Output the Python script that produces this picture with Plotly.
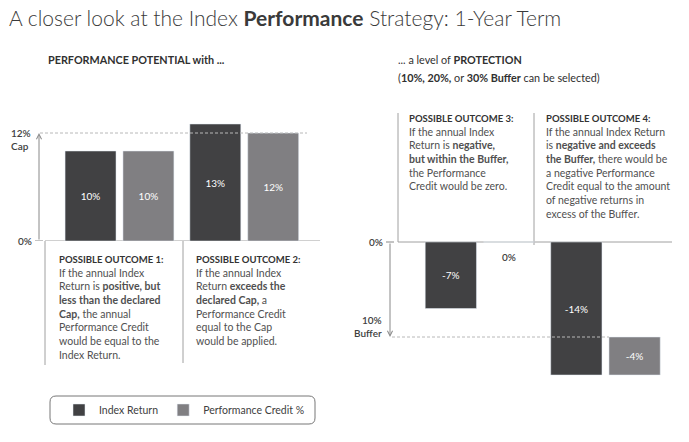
import plotly.graph_objects as go

W, H = 689, 442

# ---------------- data ----------------
outcomes_left = ["Outcome 1", "Outcome 2"]
index_return_left = [10, 13]
perf_credit_left = [10, 12]

outcomes_right = ["Outcome 3", "Outcome 4"]
index_return_right = [-7, -14]
perf_credit_right = [0, -4]
perf_credit_right_base = [0, -10]

cap_value = 12
buffer_value = -10

series_names = ["Index Return", "Performance Credit %"]

# ---------------- style ----------------
DARK = "#414143"
LIGHT = "#807f82"
LINE = "#a0a0a0"
TXT = "#505050"
FONT = "Lato"
PAGE_OFFSET = 0  # body margin removed via post_script


def X(px):
    return (px - PAGE_OFFSET) / W


def Y(py):
    return 1 - (py - PAGE_OFFSET) / H


def pct(vals):
    return [f"{v}%" if v != 0 else "" for v in vals]


fig = go.Figure()

bar_common = dict(
    textposition="inside",
    insidetextanchor="middle",
    textfont=dict(color="white", size=10, family=FONT),
    hoverinfo="skip",
)

fig.add_trace(go.Bar(x=outcomes_left, y=index_return_left, text=pct(index_return_left),
                     marker_color=DARK, name=series_names[0], legendgroup="ir",
                     xaxis="x", yaxis="y", **bar_common))
fig.add_trace(go.Bar(x=outcomes_left, y=perf_credit_left, text=pct(perf_credit_left),
                     marker_color=LIGHT, name=series_names[1], legendgroup="pc",
                     xaxis="x", yaxis="y", **bar_common))
fig.add_trace(go.Bar(x=outcomes_right, y=index_return_right, text=pct(index_return_right),
                     marker_color=DARK, name=series_names[0], legendgroup="ir", showlegend=False,
                     xaxis="x2", yaxis="y2", **bar_common))
fig.add_trace(go.Bar(x=outcomes_right, y=perf_credit_right, base=perf_credit_right_base,
                     text=pct(perf_credit_right),
                     marker_color=LIGHT, name=series_names[1], legendgroup="pc", showlegend=False,
                     xaxis="x2", yaxis="y2", **bar_common))

hidden = dict(showgrid=False, zeroline=False, showticklabels=False, ticks="", showline=False)

shapes = []
annotations = []

# axis baselines (0%)
shapes.append(dict(type="line", xref="x domain", yref="y", x0=0, x1=1, y0=0, y1=0,
                   line=dict(color=LINE, width=1), layer="below"))
shapes.append(dict(type="line", xref="x2 domain", yref="y2", x0=0, x1=1, y0=0, y1=0,
                   line=dict(color=LINE, width=1), layer="below"))

# dividers
for (x, y0, y1) in [(45, 241, 365), (183, 241, 363), (398, 113, 242), (534, 113, 245)]:
    shapes.append(dict(type="line", xref="paper", yref="paper", x0=X(x), x1=X(x),
                       y0=Y(y0), y1=Y(y1), line=dict(color=LINE, width=1), layer="below"))

# cap & buffer dashed reference lines
shapes.append(dict(type="line", xref="paper", yref="y", x0=X(40), x1=X(307),
                   y0=cap_value, y1=cap_value, line=dict(color="#b8b8b8", width=1, dash="3px,2px")))
shapes.append(dict(type="line", xref="paper", yref="y2", x0=X(392), x1=X(609),
                   y0=buffer_value, y1=buffer_value, line=dict(color="#b8b8b8", width=1, dash="3px,2px")))

# small tick marks at the arrow tails
shapes.append(dict(type="line", xref="paper", yref="y", x0=X(35), x1=X(43), y0=0, y1=0,
                   line=dict(color="#888", width=1)))
shapes.append(dict(type="line", xref="paper", yref="y2", x0=X(386), x1=X(394), y0=0, y1=0,
                   line=dict(color="#888", width=1)))

# arrows
annotations.append(dict(x=X(39), y=cap_value, xref="paper", yref="y", ax=0, ay=0,
                        axref="pixel", ayref="y", showarrow=True, arrowhead=5, arrowsize=1,
                        arrowwidth=1, arrowcolor="#888", text="", standoff=0))
annotations.append(dict(x=X(390), y=buffer_value, xref="paper", yref="y2", ax=0, ay=0,
                        axref="pixel", ayref="y2", showarrow=True, arrowhead=5, arrowsize=1,
                        arrowwidth=1, arrowcolor="#888", text="", standoff=0))

lab_font = dict(family=FONT, size=10, color="#404040", weight=600)
# axis labels
annotations.append(dict(x=X(34), y=0, xref="paper", yref="y", text="0%", showarrow=False,
                        xanchor="right", yanchor="middle", font=lab_font))
annotations.append(dict(x=X(9), y=cap_value, xref="paper", yref="y",
                        text=f"{cap_value}%<br>Cap", showarrow=False, align="left",
                        xanchor="left", yanchor="top", yshift=8, font=lab_font))
annotations.append(dict(x=X(385), y=0, xref="paper", yref="y2", text="0%", showarrow=False,
                        xanchor="right", yanchor="middle", font=lab_font))
annotations.append(dict(x=X(384), y=buffer_value, xref="paper", yref="y2",
                        text=f"{abs(buffer_value)}%<br>Buffer", showarrow=False, align="right",
                        xanchor="right", yanchor="bottom", yshift=-4, font=lab_font))

# zero performance credit label (outcome 3)
annotations.append(dict(x=outcomes_right[0], y=0, xref="x2", yref="y2",
                        text=f"{perf_credit_right[0]}%", showarrow=False, xshift=29, yshift=-15,
                        font=dict(family=FONT, size=10, color="#404040", weight=600)))

# title & subtitles
annotations.append(dict(x=X(7), y=Y(18), xref="paper", yref="paper",
                        text="A closer look at the Index <b>Performance</b> Strategy: 1-Year Term",
                        showarrow=False, xanchor="left", yanchor="middle",
                        font=dict(family=FONT, size=21, color="#3a3a3a", weight=300)))
sub_font = dict(family=FONT, size=10.8, color="#303030")
annotations.append(dict(x=X(46), y=Y(60), xref="paper", yref="paper",
                        text="<b>PERFORMANCE POTENTIAL with ...</b>", showarrow=False,
                        xanchor="left", yanchor="middle", font=sub_font))
annotations.append(dict(x=X(396), y=Y(60), xref="paper", yref="paper",
                        text="... a level of <b>PROTECTION</b>", showarrow=False,
                        xanchor="left", yanchor="middle", font=sub_font))
annotations.append(dict(x=X(396), y=Y(77), xref="paper", yref="paper",
                        text="(<b>10%, 20%,</b> or <b>30% Buffer</b> can be selected)", showarrow=False,
                        xanchor="left", yanchor="middle", font=sub_font))


def head(t):
    return f'<span style="font-size:9.5px;font-weight:bold;fill:#333333">{t}</span>'


# outcome descriptions
outcome_texts = [
    (57, 252, head("POSSIBLE OUTCOME 1:") + "<br>If the annual Index<br>Return is <b>positive, but</b><br>"
              "<b>less than the declared</b><br><b>Cap,</b> the annual<br>Performance Credit<br>"
              "would be equal to the<br>Index Return."),
    (194, 252, head("POSSIBLE OUTCOME 2:") + "<br>If the annual Index<br>Return <b>exceeds the</b><br>"
               "<b>declared Cap,</b> a<br>Performance Credit<br>equal to the Cap<br>would be applied."),
    (407, 111, head("POSSIBLE OUTCOME 3:") + "<br>If the annual Index<br>Return is <b>negative,</b><br>"
               "<b>but within the Buffer,</b><br>the Performance<br>Credit would be zero."),
    (544, 111, head("POSSIBLE OUTCOME 4:") + "<br>If the annual Index Return<br>is <b>negative and exceeds</b><br>"
               "<b>the Buffer,</b> there would be<br>a negative Performance<br>Credit equal to the amount<br>"
               "of negative returns in<br>excess of the Buffer."),
]
for (x, y, t) in outcome_texts:
    annotations.append(dict(x=X(x), y=Y(y), xref="paper", yref="paper", text=t, showarrow=False,
                            xanchor="left", yanchor="top", align="left",
                            font=dict(family=FONT, size=10.5, color=TXT)))

# rounded legend frame
x0, x1, y0, y1, r = 50, 315, 396, 424, 6
rx, ry = r / W, r / H
path = (f"M {X(x0)+rx},{Y(y0)} L {X(x1)-rx},{Y(y0)} Q {X(x1)},{Y(y0)} {X(x1)},{Y(y0)-ry} "
        f"L {X(x1)},{Y(y1)+ry} Q {X(x1)},{Y(y1)} {X(x1)-rx},{Y(y1)} "
        f"L {X(x0)+rx},{Y(y1)} Q {X(x0)},{Y(y1)} {X(x0)},{Y(y1)+ry} "
        f"L {X(x0)},{Y(y0)-ry} Q {X(x0)},{Y(y0)} {X(x0)+rx},{Y(y0)} Z")
shapes.append(dict(type="path", xref="paper", yref="paper", path=path,
                   line=dict(color="#777", width=1)))

fig.update_layout(
    width=W, height=H,
    margin=dict(l=0, r=0, t=0, b=0),
    paper_bgcolor="white", plot_bgcolor="white",
    barmode="group", bargap=0.072, bargroupgap=0.12,
    font=dict(family=FONT, color=TXT),
    hovermode=False,
    xaxis=dict(domain=[X(45), X(320)], range=[-0.597, 1.607], anchor="y", **hidden),
    yaxis=dict(domain=[Y(241), Y(100)], range=[0, 141 / 9], anchor="x", **hidden),
    xaxis2=dict(domain=[X(398), X(672)], range=[-0.653, 1.530], anchor="y2", **hidden),
    yaxis2=dict(domain=[Y(380), Y(100)], range=[-138 / 9.5, 142 / 9.5], anchor="x2", **hidden),
    shapes=shapes,
    annotations=annotations,
    showlegend=True,
    legend=dict(orientation="h", x=X(59), y=Y(410), xanchor="left", yanchor="middle",
                font=dict(family=FONT, size=10.5, color="#404040"), bgcolor="rgba(0,0,0,0)",
                itemclick=False, itemdoubleclick=False),
)

fig.write_html("out.html", config={"displayModeBar": False},
               post_script="document.body.style.margin='0';")
